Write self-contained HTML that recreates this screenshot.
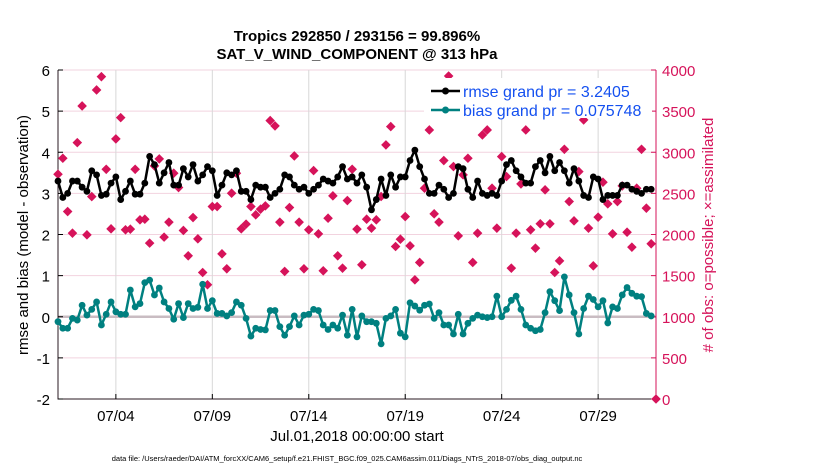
<!DOCTYPE html>
<html><head><meta charset="utf-8"><style>
body{margin:0;background:#fff;}
svg{display:block;font-family:"Liberation Sans",sans-serif;}
</style></head><body>
<svg id="chart" width="830" height="470" viewBox="0 0 830 470">
<text x="357" y="41" text-anchor="middle" font-size="15" font-weight="bold">Tropics 292850 / 293156 = 99.896%</text>
<text x="357" y="59" text-anchor="middle" font-size="15" font-weight="bold">SAT_V_WIND_COMPONENT @ 313 hPa</text>
<g id="grid"></g>
<g id="axes"></g>
<g id="series"></g>
<text transform="translate(28,235) rotate(-90)" text-anchor="middle" font-size="15">rmse and bias (model - observation)</text>
<text transform="translate(713,235) rotate(-90)" text-anchor="middle" font-size="15" fill="#d6135a"># of obs: o=possible; ×=assimilated</text>
<text x="357" y="441" text-anchor="middle" font-size="15">Jul.01,2018 00:00:00 start</text>
<text x="347" y="461" text-anchor="middle" font-size="7.5">data file: /Users/raeder/DAI/ATM_forcXX/CAM6_setup/f.e21.FHIST_BGC.f09_025.CAM6assim.011/Diags_NTrS_2018-07/obs_diag_output.nc</text>
<g>
<rect x="424" y="78" width="228" height="40" fill="#fff"/>
<g>
<line x1="431" y1="91" x2="460" y2="91" stroke="#000" stroke-width="2.5"/><circle cx="445.5" cy="91" r="3.5" fill="#000"/>
<text x="463" y="97" font-size="16" fill="#1450f0">rmse grand pr = 3.2405</text></g>
<g>
<line x1="431" y1="110" x2="460" y2="110" stroke="#008080" stroke-width="2.5"/><circle cx="445.5" cy="110" r="3.5" fill="#008080"/>
<text x="463" y="116" font-size="16" fill="#1450f0">bias grand pr = 0.075748</text></g>
</g>
</svg>
<script>
const rmse=[3.3,2.9,3.0,3.3,3.3,3.15,3.05,3.55,3.45,2.95,2.98,3.25,3.4,2.85,3.05,3.3,2.98,2.98,3.25,3.9,3.7,3.25,3.5,3.75,3.2,3.2,3.6,3.4,3.7,3.3,3.45,3.65,3.55,2.95,3.2,3.5,3.45,3.55,3.05,3.05,2.85,3.2,3.15,3.15,2.9,3.0,3.1,3.45,3.4,3.2,3.1,3.15,3.0,3.1,3.2,3.35,3.3,3.25,3.4,3.65,3.35,3.4,3.25,
3.45,3.15,2.6,2.85,3.35,2.95,3.45,3.15,3.4,3.4,3.8,4.05,3.65,3.35,3.0,3.0,3.2,3.1,2.9,3.0,3.65,3.6,3.1,2.9,3.3,3.0,2.95,3.0,2.95,3.3,3.7,3.8,3.55,3.4,3.25,3.25,3.65,3.8,3.5,3.9,3.55,3.75,3.55,3.25,3.6,3.3,2.95,2.9,3.4,3.35,2.85,2.95,2.95,2.95,3.2,3.2,3.1,3.05,3.0,3.1,3.1];
const bias=[-0.12,-0.28,-0.28,-0.04,-0.08,0.28,0.04,0.18,0.36,-0.2,0.06,0.36,0.12,0.06,0.06,0.65,0.24,0.32,0.83,0.89,0.53,0.7,0.36,0.2,-0.06,0.32,-0.02,0.32,0.2,0.23,0.79,0.2,0.39,0.08,0.08,0.02,0.1,0.36,0.28,-0.04,-0.47,-0.28,-0.31,-0.32,0.15,0.15,-0.24,-0.45,-0.24,0.02,-0.2,0.04,0.06,0.18,0.15,-0.2,-0.31,-0.2,-0.28,0.04,-0.45,0.18,-0.49,
0.02,-0.12,-0.12,-0.16,-0.66,-0.04,0.02,0.18,-0.4,-0.49,0.34,0.26,0.16,0.28,0.31,-0.04,0.1,-0.2,-0.2,-0.42,0.06,-0.42,-0.16,-0.04,0.04,0,-0.02,0,0.5,0,0.18,0.4,0.5,0.18,-0.2,-0.28,-0.34,-0.31,0.1,0.61,0.39,0.15,0.97,0.53,0.1,-0.42,0.2,0.5,0.42,0.24,0.39,-0.15,0.24,0.2,0.53,0.71,0.57,0.5,0.49,0.08,0.02];
const obsCount=[2733,2927,2279,2016,3117,3563,1996,2461,3757,3919,2793,2069,3162,3421,2057,2065,2793,2178,2186,1895,2834,2919,1968,2150,2745,2571,2049,1741,2206,1947,1538,1389,2340,2340,1765,1583,2502,2745,2069,2126,2340,2239,2308,2348,3385,3320,2150,1551,2328,2955,2150,1583,2057,2777,2008,1559,2198,2470,1741,1591,2413,2793,2065,
1632,2186,2077,2178,2462,3089,3312,1854,1943,2218,1862,1449,1660,2563,3271,2251,2150,2899,3927,2826,1984,2725,2927,1660,2016,3210,3271,2563,2077,2947,2704,1591,2016,2615,3271,2057,1834,2130,2543,2130,1538,1680,3036,2401,2166,2765,3393,2077,1619,2211,2636,2373,2008,2401,2591,2028,1846,2563,3036,2320,1887,0];
const leftTicks=[-2,-1,0,1,2,3,4,5,6];
const rightTicks=[0,500,1000,1500,2000,2500,3000,3500,4000];
const xTickDays=[3,8,13,18,23,28];
const xTickLabels=["07/04","07/09","07/14","07/19","07/24","07/29"];
const stepDays=0.25;

const L=58,R=656,T=70,B=399;
const xs=d=>L+d*(R-L)/31;
const yl=v=>B-(v+2)*(B-T)/8;
const yr=v=>B-v*(B-T)/4000;
const NS="http://www.w3.org/2000/svg";
function mk(tag,attrs,parent){const e=document.createElementNS(NS,tag);for(const k in attrs)e.setAttribute(k,attrs[k]);parent.appendChild(e);return e;}
const grid=document.getElementById('grid'),axes=document.getElementById('axes'),ser=document.getElementById('series');

rightTicks.forEach(v=>{
  const g=mk('line',{x1:L,x2:R,y1:yr(v),y2:yr(v),stroke:'#f2d3df','stroke-width':1},grid);
  
  
});
xTickDays.forEach(d=>{
  const g=mk('line',{x1:xs(d),x2:xs(d),y1:T,y2:B,stroke:'#d8d8d8','stroke-width':1},grid);
  
  
});
const z=mk('line',{x1:L,x2:R,y1:yl(0),y2:yl(0),stroke:'#c9bcc2','stroke-width':2.5},grid);



const frame=mk('path',{d:`M${L},${T}V${B}H${R}`,fill:'none',stroke:'#2a1a22','stroke-width':1},axes);


const ra=mk('line',{x1:R,x2:R,y1:T,y2:B,stroke:'#d6135a','stroke-width':1},axes);


leftTicks.forEach(v=>{
  mk('line',{x1:L,x2:L+5,y1:yl(v),y2:yl(v),stroke:'#000'},axes);
  const t=mk('text',{x:L-8,y:yl(v)+6,'text-anchor':'end','font-size':15},axes);
  t.textContent=v;
  
  
});
rightTicks.forEach(v=>{
  mk('line',{x1:R-5,x2:R,y1:yr(v),y2:yr(v),stroke:'#d6135a'},axes);
  const t=mk('text',{x:R+6,y:yr(v)+6,'font-size':15,fill:'#d6135a'},axes);
  t.textContent=v;
  
  
});
xTickDays.forEach((d,i)=>{
  mk('line',{x1:xs(d),x2:xs(d),y1:B,y2:B-5,stroke:'#000'},axes);
  const t=mk('text',{x:xs(d),y:B+22,'text-anchor':'middle','font-size':15},axes);
  t.textContent=xTickLabels[i];
  
  
});

obsCount.forEach((v,i)=>{
  const x=xs(i*stepDays),y=yr(v),r=4.8;
  const p=mk('path',{d:`M${x},${y-r}L${x+r},${y}L${x},${y+r}L${x-r},${y}Z`,fill:'#d6135a'},ser);
  
  
});
function line(arr,color,name){
  const pts=arr.map((v,i)=>`${xs(i*stepDays).toFixed(1)},${yl(v).toFixed(1)}`).join(' ');
  const pl=mk('polyline',{points:pts,fill:'none',stroke:color,'stroke-width':2.5,'stroke-linejoin':'round'},ser);
  
  
  arr.forEach((v,i)=>{
    const c=mk('circle',{cx:xs(i*stepDays),cy:yl(v),r:3.4,fill:color},ser);
    
    
  });
}
line(rmse,'#000','rmse');
line(bias,'#008080','bias');
</script>
</body></html>
